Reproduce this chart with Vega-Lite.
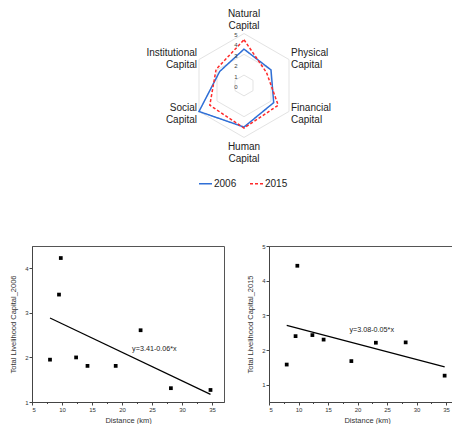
{
  "$schema": "https://vega.github.io/schema/vega-lite/v6.json",
  "padding": {"left": 9, "top": 0, "right": 0, "bottom": 0},
  "background": "white",
  "config": {
    "font": "Liberation Sans",
    "view": {"stroke": null},
    "axis": {
      "grid": false,
      "labelFontSize": 6,
      "labelColor": "#333",
      "titleFontSize": 7.5,
      "titleFontWeight": "normal",
      "titleColor": "#333",
      "domainColor": "#444",
      "tickColor": "#444",
      "tickSize": 3,
      "labelPadding": 1
    }
  },
  "datasets": {
    "radar": [
      {"axis": "Natural Capital", "idx": 0, "year": "2006", "value": 3.5},
      {"axis": "Physical Capital", "idx": 1, "year": "2006", "value": 3.0},
      {"axis": "Financial Capital", "idx": 2, "year": "2006", "value": 3.3},
      {"axis": "Human Capital", "idx": 3, "year": "2006", "value": 4.0},
      {"axis": "Social Capital", "idx": 4, "year": "2006", "value": 5.0},
      {"axis": "Institutional Capital", "idx": 5, "year": "2006", "value": 2.7},
      {"axis": "Natural Capital", "idx": 0, "year": "2015", "value": 4.4},
      {"axis": "Physical Capital", "idx": 1, "year": "2015", "value": 2.5},
      {"axis": "Financial Capital", "idx": 2, "year": "2015", "value": 3.8},
      {"axis": "Human Capital", "idx": 3, "year": "2015", "value": 4.1},
      {"axis": "Social Capital", "idx": 4, "year": "2015", "value": 3.8},
      {"axis": "Institutional Capital", "idx": 5, "year": "2015", "value": 3.1}
    ],
    "grid": [
      {"level": 1, "idx": 0}, {"level": 1, "idx": 1}, {"level": 1, "idx": 2},
      {"level": 1, "idx": 3}, {"level": 1, "idx": 4}, {"level": 1, "idx": 5},
      {"level": 3, "idx": 0}, {"level": 3, "idx": 1}, {"level": 3, "idx": 2},
      {"level": 3, "idx": 3}, {"level": 3, "idx": 4}, {"level": 3, "idx": 5},
      {"level": 5, "idx": 0}, {"level": 5, "idx": 1}, {"level": 5, "idx": 2},
      {"level": 5, "idx": 3}, {"level": 5, "idx": 4}, {"level": 5, "idx": 5}
    ],
    "labels": [
      {"name": "Natural\nCapital", "idx": 0, "side": "top"},
      {"name": "Physical\nCapital", "idx": 1, "side": "right"},
      {"name": "Financial\nCapital", "idx": 2, "side": "right"},
      {"name": "Human\nCapital", "idx": 3, "side": "bottom"},
      {"name": "Social\nCapital", "idx": 4, "side": "left"},
      {"name": "Institutional\nCapital", "idx": 5, "side": "left"}
    ],
    "rticks": [{"t": 0}, {"t": 1}, {"t": 2}, {"t": 3}, {"t": 4}, {"t": 5}],
    "sites": [
      {"distance": 8.0, "tlc2006": 1.95, "tlc2015": 1.58},
      {"distance": 9.5, "tlc2006": 3.41, "tlc2015": 2.40},
      {"distance": 9.8, "tlc2006": 4.23, "tlc2015": 4.43},
      {"distance": 12.35, "tlc2006": 2.0, "tlc2015": 2.43},
      {"distance": 14.25, "tlc2006": 1.81, "tlc2015": 2.30},
      {"distance": 18.95, "tlc2006": 1.81, "tlc2015": 1.68},
      {"distance": 23.1, "tlc2006": 2.61, "tlc2015": 2.21},
      {"distance": 28.15, "tlc2006": 1.31, "tlc2015": 2.22},
      {"distance": 34.75, "tlc2006": 1.27, "tlc2015": 1.26}
    ],
    "eq2006": [{"x": 25.4, "y": 2.19, "label": "y=3.41-0.06*x"}],
    "eq2015": [{"x": 22.4, "y": 2.57, "label": "y=3.08-0.05*x"}]
  },
  "bounds": "flush",
  "spacing": 56,
  "vconcat": [
    {
      "width": 424,
      "height": 190,
      "encoding": {
        "x": {"field": "px", "type": "quantitative", "scale": {"domain": [-20.4, 20.4], "nice": false, "zero": false}, "axis": null},
        "y": {"field": "py", "type": "quantitative", "scale": {"domain": [-10.06, 8.23], "nice": false, "zero": false}, "axis": null}
      },
      "layer": [
        {
          "data": {"name": "grid"},
          "transform": [
            {"calculate": "datum.level * sin(datum.idx * PI / 3)", "as": "px"},
            {"calculate": "datum.level * cos(datum.idx * PI / 3)", "as": "py"}
          ],
          "mark": {"type": "line", "interpolate": "linear-closed", "stroke": "#e3e3e3", "strokeWidth": 1},
          "encoding": {"detail": {"field": "level"}, "order": {"field": "idx"}}
        },
        {
          "data": {"name": "radar"},
          "transform": [
            {"calculate": "datum.value * sin(datum.idx * PI / 3)", "as": "px"},
            {"calculate": "datum.value * cos(datum.idx * PI / 3)", "as": "py"}
          ],
          "mark": {"type": "line", "interpolate": "linear-closed", "strokeWidth": 1.5},
          "encoding": {
            "order": {"field": "idx"},
            "color": {"field": "year", "type": "nominal", "scale": {"domain": ["2006", "2015"], "range": ["#2f6fd6", "#ff2a2a"]},
              "legend": {"orient": "none", "legendX": 166, "legendY": 176, "direction": "horizontal", "title": null, "symbolType": "stroke", "symbolSize": 169, "symbolStrokeWidth": 1.5, "labelFontSize": 10, "labelColor": "#222", "columnPadding": 10, "labelOffset": 1}},
            "strokeDash": {"field": "year", "type": "nominal", "scale": {"domain": ["2006", "2015"], "range": [[1, 0], [3, 2]]}}
          }
        },
        {
          "data": {"name": "rticks"},
          "transform": [
            {"calculate": "0", "as": "px"},
            {"calculate": "datum.t", "as": "py"}
          ],
          "mark": {"type": "text", "fontSize": 6, "color": "#444", "dx": -8, "dy": 1.5, "baseline": "middle", "align": "center"},
          "encoding": {
            "text": {"field": "t", "type": "quantitative"}
          }
        },
        {
          "data": {"name": "labels"},
          "transform": [
            {"filter": "datum.side == 'top'"},
            {"calculate": "6.85 * sin(datum.idx * PI / 3)", "as": "px"},
            {"calculate": "6.85 * cos(datum.idx * PI / 3)", "as": "py"}
          ],
          "mark": {"type": "text", "fontSize": 10, "color": "#222", "lineBreak": "\n", "lineHeight": 12, "align": "center", "baseline": "middle"},
          "encoding": {"text": {"field": "name"}}
        },
        {
          "data": {"name": "labels"},
          "transform": [
            {"filter": "datum.side == 'bottom'"},
            {"calculate": "5.92 * sin(datum.idx * PI / 3)", "as": "px"},
            {"calculate": "5.92 * cos(datum.idx * PI / 3)", "as": "py"}
          ],
          "mark": {"type": "text", "fontSize": 10, "color": "#222", "lineBreak": "\n", "lineHeight": 12, "align": "center", "baseline": "middle"},
          "encoding": {"text": {"field": "name"}}
        },
        {
          "data": {"name": "labels"},
          "transform": [
            {"filter": "datum.side == 'right'"},
            {"calculate": "5.22 * sin(datum.idx * PI / 3)", "as": "px"},
            {"calculate": "5.22 * cos(datum.idx * PI / 3)", "as": "py"}
          ],
          "mark": {"type": "text", "fontSize": 10, "color": "#222", "lineBreak": "\n", "lineHeight": 12, "align": "left", "baseline": "middle", "dy": -5},
          "encoding": {"text": {"field": "name"}}
        },
        {
          "data": {"name": "labels"},
          "transform": [
            {"filter": "datum.side == 'left'"},
            {"calculate": "5.22 * sin(datum.idx * PI / 3)", "as": "px"},
            {"calculate": "5.22 * cos(datum.idx * PI / 3)", "as": "py"}
          ],
          "mark": {"type": "text", "fontSize": 10, "color": "#222", "lineBreak": "\n", "lineHeight": 12, "align": "right", "baseline": "middle", "dy": -5},
          "encoding": {"text": {"field": "name"}}
        }
      ]
    },
    {
      "bounds": "flush",
      "spacing": 45,
      "hconcat": [
        {
          "width": 192,
          "height": 156,
          "view": {"stroke": "#555", "strokeWidth": 1},
          "data": {"name": "sites"},
          "encoding": {
            "x": {"field": "distance", "type": "quantitative", "title": "Distance (km)",
              "scale": {"domain": [5, 37], "nice": false, "zero": false},
              "axis": {"values": [5, 7.5, 10, 12.5, 15, 17.5, 20, 22.5, 25, 27.5, 30, 32.5, 35], "labelExpr": "datum.value % 5 == 0 ? datum.label : ''", "tickSize": {"condition": {"test": "datum.value % 5 == 0", "value": 3}, "value": 1.5}, "titlePadding": 4}},
            "y": {"field": "tlc2006", "type": "quantitative", "title": "Total Livelihood Capital_2006",
              "scale": {"domain": [1, 4.5], "nice": false, "zero": false},
              "axis": {"values": [1, 2, 3, 4], "titlePadding": 7}}
          },
          "layer": [
            {"mark": {"type": "point", "shape": "square", "filled": true, "color": "black", "size": 14, "opacity": 1}},
            {
              "transform": [{"regression": "tlc2006", "on": "distance"}],
              "mark": {"type": "line", "color": "black", "strokeWidth": 1.2}
            },
            {
              "data": {"name": "eq2006"},
              "mark": {"type": "text", "fontSize": 7.2, "color": "#222"},
              "encoding": {
                "x": {"field": "x", "type": "quantitative"},
                "y": {"field": "y", "type": "quantitative"},
                "text": {"field": "label"}
              }
            }
          ]
        },
        {
          "width": 196,
          "height": 156,
          "view": {"stroke": "#555", "strokeWidth": 1},
          "data": {"name": "sites"},
          "encoding": {
            "x": {"field": "distance", "type": "quantitative", "title": "Distance (km)",
              "scale": {"domain": [5, 38.2], "nice": false, "zero": false},
              "axis": {"values": [5, 7.5, 10, 12.5, 15, 17.5, 20, 22.5, 25, 27.5, 30, 32.5, 35, 37.5], "labelExpr": "datum.value % 5 == 0 ? datum.label : ''", "tickSize": {"condition": {"test": "datum.value % 5 == 0", "value": 3}, "value": 1.5}, "titlePadding": 4}},
            "y": {"field": "tlc2015", "type": "quantitative", "title": "Total Livelihood Capital_2015",
              "scale": {"domain": [0.5, 5], "nice": false, "zero": false},
              "axis": {"values": [1, 2, 3, 4, 5], "titlePadding": 7}}
          },
          "layer": [
            {"mark": {"type": "point", "shape": "square", "filled": true, "color": "black", "size": 14, "opacity": 1}},
            {
              "transform": [{"regression": "tlc2015", "on": "distance"}],
              "mark": {"type": "line", "color": "black", "strokeWidth": 1.2}
            },
            {
              "data": {"name": "eq2015"},
              "mark": {"type": "text", "fontSize": 7.2, "color": "#222"},
              "encoding": {
                "x": {"field": "x", "type": "quantitative"},
                "y": {"field": "y", "type": "quantitative"},
                "text": {"field": "label"}
              }
            }
          ]
        }
      ]
    }
  ]
}
